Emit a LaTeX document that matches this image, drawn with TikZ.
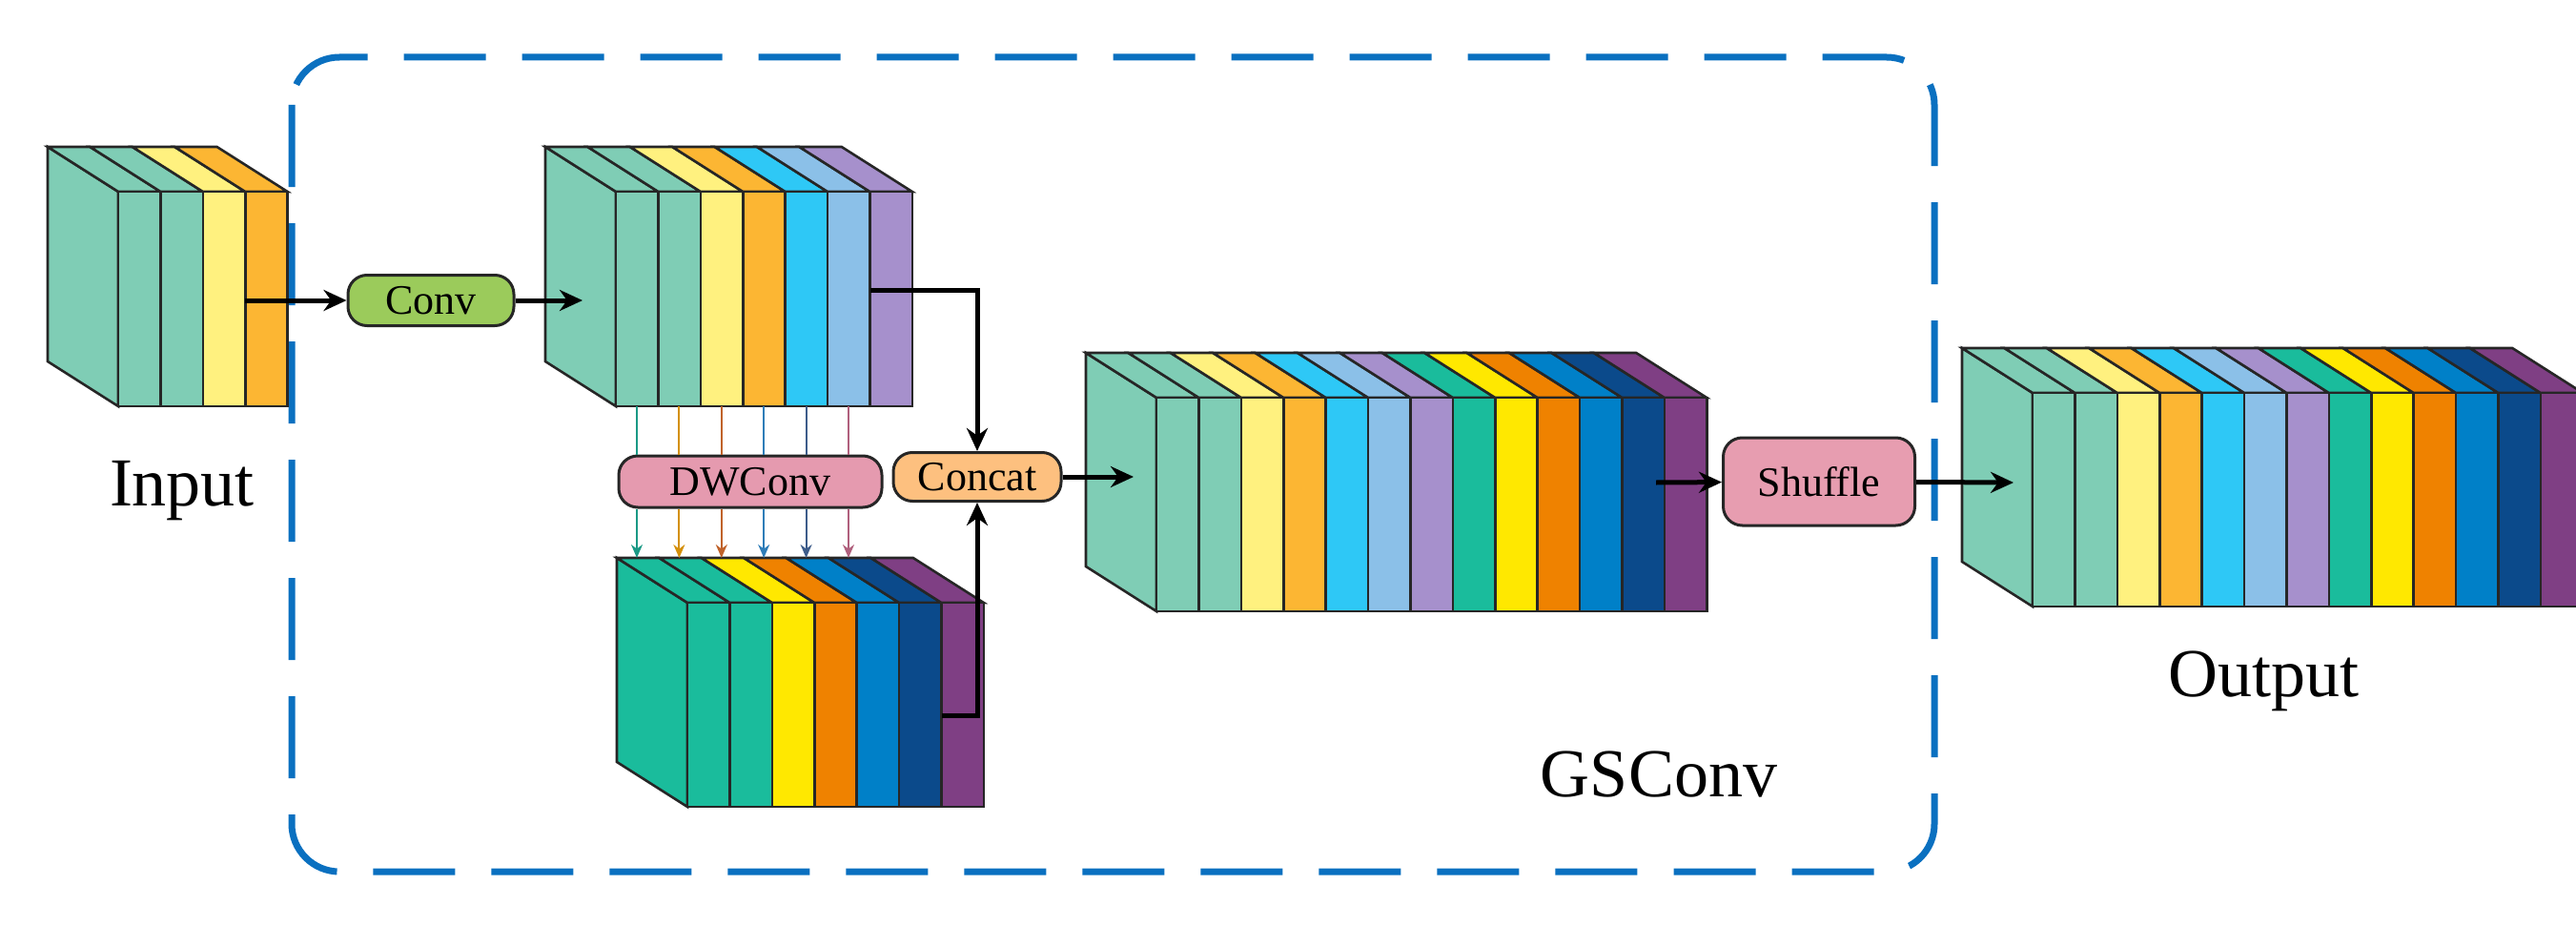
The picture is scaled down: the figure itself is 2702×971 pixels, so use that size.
\documentclass[tikz,border=0pt]{standalone}
\usepackage{fontspec}
\setmainfont{Liberation Serif}
\usetikzlibrary{arrows.meta}
\definecolor{cA}{HTML}{7FCDB5}\definecolor{cB}{HTML}{FFF17F}\definecolor{cC}{HTML}{FCB633}
\definecolor{cD}{HTML}{2EC8F6}\definecolor{cE}{HTML}{8BC0E8}\definecolor{cF}{HTML}{A690CC}
\definecolor{cG}{HTML}{1ABC9C}\definecolor{cH}{HTML}{FFE800}\definecolor{cI}{HTML}{EF8200}
\definecolor{cJ}{HTML}{0080C8}\definecolor{cK}{HTML}{0B4A8B}\definecolor{cL}{HTML}{7F3F84}
\definecolor{boxblue}{HTML}{0A70C0}
\definecolor{aA}{HTML}{1A9985}\definecolor{aB}{HTML}{D4900A}\definecolor{aC}{HTML}{C0622A}
\definecolor{aD}{HTML}{2E7DB8}\definecolor{aE}{HTML}{3D5C8A}\definecolor{aF}{HTML}{B0607D}
\newcommand\cblock[4]{% front-left x, top y, bottom y, colours
  \foreach \c [count=\i from 0] in {#4}{%
    \ifnum\i=0
      \filldraw[blk,fill=\c] (#1,#2) -- ++(-74,-47) -- (#1-74,#3-47) -- (#1,#3) -- cycle;
    \fi
    \filldraw[blk,fill=\c] (#1+\i*44.4,#2) -- ++(44.4,0) -- ++(-74,-47) -- ++(-44.4,0) -- cycle;
    \filldraw[blk,fill=\c] (#1+\i*44.4,#2) rectangle ++(44.4,#3-#2);
  }}
\begin{document}
\begin{tikzpicture}[x=1pt,y=-1pt,
  blk/.style={draw=black!85,line width=2.6pt,line join=miter},
  op/.style={draw=black!85,line width=3pt,rounded corners=20pt,inner sep=0pt,font=\fontsize{44}{50}\selectfont},
  con/.style={line width=5pt,-{Stealth[length=24pt,width=22pt]}},
  dw/.style={line width=2pt,-{Stealth[length=14pt,width=12pt]}},
  lbl/.style={font=\fontsize{72}{80}\selectfont,anchor=base}]
\useasboundingbox (0,0) rectangle (2702,971);
\draw[boxblue,line width=7pt,dash pattern=on 86pt off 38pt,rounded corners=50pt] (306,60) rectangle (2029,914);
\cblock{124}{201}{426}{cA,cA,cB,cC}
\cblock{646}{201}{426}{cA,cA,cB,cC,cD,cE,cF}
\cblock{721}{632}{846}{cG,cG,cH,cI,cJ,cK,cL}
\cblock{1213}{417}{641}{cA,cA,cB,cC,cD,cE,cF,cG,cH,cI,cJ,cK,cL}
\cblock{2132}{412}{636}{cA,cA,cB,cC,cD,cE,cF,cG,cH,cI,cJ,cK,cL}
\node[op,fill={rgb,255:red,155;green,203;blue,91},minimum width=174pt,minimum height=53pt] (conv) at (452,315) {Conv};
\node[op,fill={rgb,255:red,229;green,154;blue,175},minimum width=276pt,minimum height=54pt] (dwconv) at (787,505) {DWConv};
\node[op,fill={rgb,255:red,253;green,192;blue,127},minimum width=176pt,minimum height=51pt] (concat) at (1025,500) {Concat};
\node[op,fill={rgb,255:red,231;green,157;blue,176},minimum width=201pt,minimum height=92pt] (shuffle) at (1908,505) {Shuffle};
\coordinate (inR) at (257,315); \coordinate (b2L) at (611,315);
\coordinate (b2R) at (913,304); \coordinate (bbR) at (988,750);
\coordinate (b3L) at (1189,500); \coordinate (b3R) at (1737,506);
\coordinate (outL) at (2112,506);
\draw[con] (inR) -- (conv);
\draw[con] (conv) -- (b2L);
\draw[con,rounded corners=0pt] (b2R) -| (concat.north);
\draw[con] (bbR) -| (concat.south);
\draw[con] (concat) -- (b3L);
\draw[con] (b3R) -- (shuffle);
\draw[con] (shuffle) -- (outL);
\foreach \c [count=\i from 0] in {aA,aB,aC,aD,aE,aF}{
  \coordinate (t\i) at (668+\i*44.4,426);
  \coordinate (u\i) at (668+\i*44.4,585);
  \draw[\c,line width=2pt] (t\i) -- (t\i |- dwconv.north);
  \draw[dw,\c] (t\i |- dwconv.south) -- (u\i);
}
\node[lbl] (input) at (191,530) {Input};
\node[lbl] (output) at (2374,730) {Output};
\node[lbl] (gsconv) at (1740,835) {GSConv};
\end{tikzpicture}
\end{document}
